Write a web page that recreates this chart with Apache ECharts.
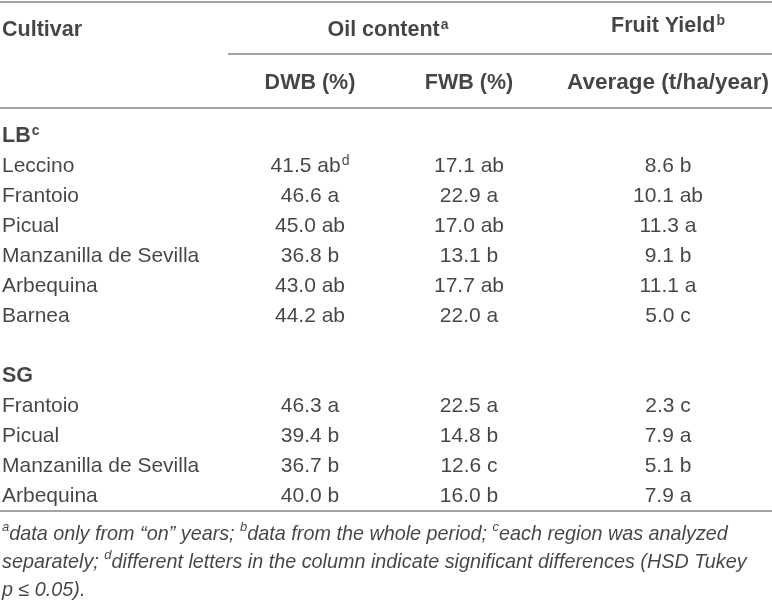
<!DOCTYPE html>
<html>
<head>
<meta charset="utf-8">
<script src="https://cdn.jsdelivr.net/npm/echarts@6/dist/echarts.min.js"></script>
<style>
  html, body { margin: 0; padding: 0; background: #fff; }
  #chart { width: 772px; height: 602px; }
</style>
</head>
<body>
<div id="chart"></div>
<script>
// ---- table data ----
var lbCultivars = ["Leccino", "Frantoio", "Picual", "Manzanilla de Sevilla", "Arbequina", "Barnea"];
var lbDwb = [41.5, 46.6, 45.0, 36.8, 43.0, 44.2];
var lbDwbSig = ["ab", "a", "ab", "b", "ab", "ab"];
var lbFwb = [17.1, 22.9, 17.0, 13.1, 17.7, 22.0];
var lbFwbSig = ["ab", "a", "ab", "b", "ab", "a"];
var lbYield = [8.6, 10.1, 11.3, 9.1, 11.1, 5.0];
var lbYieldSig = ["b", "ab", "a", "b", "a", "c"];

var sgCultivars = ["Frantoio", "Picual", "Manzanilla de Sevilla", "Arbequina"];
var sgDwb = [46.3, 39.4, 36.7, 40.0];
var sgDwbSig = ["a", "b", "b", "b"];
var sgFwb = [22.5, 14.8, 12.6, 16.0];
var sgFwbSig = ["a", "b", "c", "b"];
var sgYield = [2.3, 7.9, 5.1, 7.9];
var sgYieldSig = ["c", "a", "b", "a"];

// ---- layout (table units = px) ----
var colName = 2, colDwb = 310, colFwb = 469, colYield = 668;
var firstRow = 135, rowStep = 30;
var textColor = "#161616";
var ruleColor = "#a3a3a3";

function rowY(i) { return firstRow + rowStep * i; }
function fmt(v, sig) { return v.toFixed(1) + " " + sig; }

var cells = [];
function cell(x, y, text, align) {
  cells.push({ value: [x, y], label: { formatter: text, align: align || "center" } });
}

// header
cell(colName, 29, "{h|Cultivar}", "left");
cell(388, 29, "{h|Oil content}{hs|a}");
cell(colYield, 25, "{h|Fruit Yield}{hs|b}");
cell(colDwb, 82, "{h|DWB (%)}");
cell(colFwb, 82, "{h|FWB (%)}");
cell(colYield, 82, "{hw|Average (t/ha/year)}");

// LB block
cell(colName, rowY(0), "{h|LB}{hs|c}", "left");
lbCultivars.forEach(function (name, i) {
  var r = rowY(i + 1);
  cell(colName, r, "{t|" + name + "}", "left");
  var dwb = "{t|" + fmt(lbDwb[i], lbDwbSig[i]) + "}";
  if (i === 0) dwb += "{s|d}";
  cell(colDwb, r, dwb);
  cell(colFwb, r, "{t|" + fmt(lbFwb[i], lbFwbSig[i]) + "}");
  cell(colYield, r, "{t|" + fmt(lbYield[i], lbYieldSig[i]) + "}");
});

// SG block (one blank row after LB)
var sgStart = lbCultivars.length + 2;
cell(colName, rowY(sgStart), "{h|SG}", "left");
sgCultivars.forEach(function (name, i) {
  var r = rowY(sgStart + i + 1);
  cell(colName, r, "{t|" + name + "}", "left");
  cell(colDwb, r, "{t|" + fmt(sgDwb[i], sgDwbSig[i]) + "}");
  cell(colFwb, r, "{t|" + fmt(sgFwb[i], sgFwbSig[i]) + "}");
  cell(colYield, r, "{t|" + fmt(sgYield[i], sgYieldSig[i]) + "}");
});

// footnotes
var lastRow = rowY(sgStart + sgCultivars.length);
cell(colName, 532, "{fs|a}{f|data only from \u201con\u201d years; }{fs|b}{f|data from the whole period; }{fs|c}{f|each region was analyzed}", "left");
cell(colName, 560, "{f|separately; }{fs|d}{f|different letters in the column indicate significant differences (HSD Tukey}", "left");
cell(colName, 588, "{f|p \u2264 0.05).}", "left");

var myChart = echarts.init(document.getElementById("chart"));
var option = {
  animation: false,
  grid: { left: 0, right: 0, top: 0, bottom: 0 },
  xAxis: { type: "value", min: 0, max: 772, show: false },
  yAxis: { type: "value", min: 0, max: 602, inverse: true, show: false },
  series: [
    {
      type: "scatter",
      symbolSize: 0,
      silent: true,
      data: cells,
      label: {
        show: true,
        position: "inside",
        verticalAlign: "middle",
        color: textColor,
        fontFamily: "Liberation Sans, Arial, sans-serif",
        rich: {
          h: { fontSize: 21.5, fontWeight: "bold", color: textColor, lineHeight: 24, verticalAlign: "bottom" },
          hw: { fontSize: 22.5, fontWeight: "bold", color: textColor, lineHeight: 24, verticalAlign: "bottom" },
          hs: { fontSize: 14, fontWeight: "bold", color: textColor, lineHeight: 24, verticalAlign: "top", padding: [1, 0, 0, 1] },
          t: { fontSize: 21, color: textColor, lineHeight: 24, verticalAlign: "bottom" },
          s: { fontSize: 14, color: textColor, lineHeight: 24, verticalAlign: "top", padding: [1, 0, 0, 1] },
          f: { fontSize: 19.8, fontStyle: "italic", color: textColor, lineHeight: 24, verticalAlign: "bottom" },
          fs: { fontSize: 13, fontStyle: "italic", color: textColor, lineHeight: 24, verticalAlign: "top", padding: [1, 0, 0, 0] }
        }
      },
      markLine: {
        silent: true,
        symbol: ["none", "none"],
        label: { show: false },
        lineStyle: { color: ruleColor, width: 2, type: "solid" },
        data: [
          [{ coord: [0, 1.5] }, { coord: [772, 1.5] }],
          [{ coord: [228, 54] }, { coord: [772, 54] }],
          [{ coord: [0, 108] }, { coord: [772, 108] }],
          [{ coord: [0, lastRow + 16] }, { coord: [772, lastRow + 16] }]
        ]
      }
    }
  ]
};
myChart.setOption(option);
</script>
</body>
</html>
